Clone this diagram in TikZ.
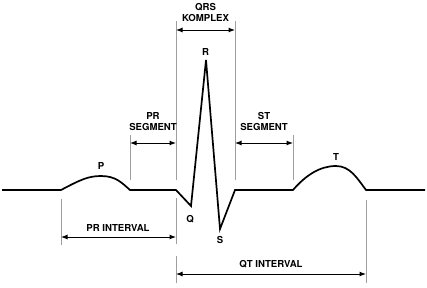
\documentclass[tikz,border=0pt]{standalone}
\usepackage{fontspec}
\setmainfont{TeX Gyre Heros}
\usetikzlibrary{positioning, arrows.meta}

\tikzset{
  trace/.style={line width=1.7pt, line join=miter},
  tick/.style={draw=gray!75, line width=0.8pt},
  span/.style={{Latex[length=6.5pt,width=5pt]}-{Latex[length=6.5pt,width=5pt]}, line width=1pt},
  lbl/.style={font=\fontsize{9.6}{11}\selectfont\bfseries, inner sep=0pt, align=center}
}

\begin{document}
\begin{tikzpicture}[x=1pt, y=-1pt]
  \useasboundingbox (0,0) rectangle (427,287);
  % points of the trace
  \coordinate (start) at (2,190);
  \coordinate (p0) at (61,190);
  \coordinate (p1) at (130,190);
  \coordinate (q0) at (176,190);
  \coordinate (q) at (191,206);
  \coordinate (r) at (206,60);
  \coordinate (s) at (220,229);
  \coordinate (s1) at (235,190);
  \coordinate (t0) at (293,190);
  \coordinate (t1) at (366,190);
  \coordinate (stop) at (425,190);
  \draw[trace] (start) -- (p0) .. controls (80,180) and (88,176) .. (101,176)
    .. controls (116,176) and (122,183) .. (p1) -- (q0) -- (q) -- (r) -- (s) -- (s1) -- (t0)
    .. controls (306,175) and (320,166) .. (336,166)
    .. controls (350,166) and (357,178) .. (t1) -- (stop);

  % guide lines
  \draw[tick] (176,21) -- (176,180);
  \draw[tick] (235,21) -- (235,180);
  \draw[tick] (130,135) -- (130,180);
  \draw[tick] (293,135) -- (293,180);
  \draw[tick] (61,199) -- (61,245);
  \draw[tick] (176,198) -- (176,244);
  \draw[tick] (176,256) -- (176,283);
  \draw[tick] (366,200) -- (366,283);

  % spans
  \coordinate (qrsL) at (176,30);
  \coordinate (qrsR) at (235,30);
  \coordinate (prsL) at (130,143);
  \coordinate (prsR) at (176,143);
  \coordinate (stsL) at (235,143);
  \coordinate (stsR) at (293,143);
  \coordinate (priL) at (61,237);
  \coordinate (priR) at (176,237);
  \coordinate (qtiL) at (176,274);
  \coordinate (qtiR) at (366,274);
  \draw[span] (qrsL) -- (qrsR);
  \draw[span] (prsL) -- (prsR);
  \draw[span] (stsL) -- (stsR);
  \draw[span] (priL) -- (priR);
  \draw[span] (qtiL) -- (qtiR);

  % labels
  \node[lbl] (qrs) at (205.5,12) {QRS\\KOMPLEX};
  \node[lbl] (rlbl) at (205.5,52) {R};
  \node[lbl] (prseg) at (153,121.5) {PR\\SEGMENT};
  \node[lbl] (stseg) at (264,121.5) {ST\\SEGMENT};
  \node[lbl] (plbl) at (101,166) {P};
  \node[lbl] (tlbl) at (336,157) {T};
  \node[lbl] (qlbl) at (190,219) {Q};
  \node[lbl] (slbl) at (220,240) {S};
  \node[lbl] (pri) at (118,228) {PR INTERVAL};
  \node[lbl] (qti) at (271,264) {QT INTERVAL};
\end{tikzpicture}
\end{document}
